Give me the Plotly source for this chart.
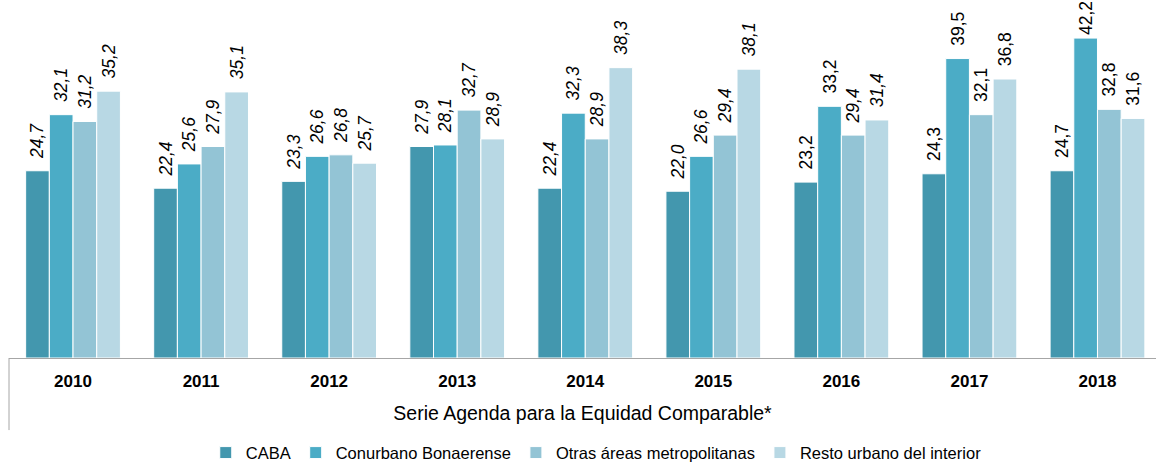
import plotly.graph_objects as go

years = ["2010", "2011", "2012", "2013", "2014", "2015", "2016", "2017", "2018"]
caba = [24.7, 22.4, 23.3, 27.9, 22.4, 22.0, 23.2, 24.3, 24.7]
conurbano = [32.1, 25.6, 26.6, 28.1, 32.3, 26.6, 33.2, 39.5, 42.2]
otras = [31.2, 27.9, 26.8, 32.7, 28.9, 29.4, 29.4, 32.1, 32.8]
resto = [35.2, 35.1, 25.7, 28.9, 38.3, 38.1, 31.4, 36.8, 31.6]

# italic flags of the value labels as seen in the picture
italic_caba = [1, 1, 1, 1, 1, 1, 0, 0, 0]
italic_conurbano = [1, 1, 1, 1, 1, 1, 0, 0, 0]
italic_otras = [1, 1, 1, 1, 1, 1, 1, 0, 0]
italic_resto = [1, 1, 1, 1, 1, 1, 1, 0, 0]

names = ["CABA", "Conurbano Bonaerense", "Otras áreas metropolitanas", "Resto urbano del interior"]
colors = ["#4397AE", "#4BACC6", "#93C4D5", "#B8D8E4"]
series = [caba, conurbano, otras, resto]
italics = [italic_caba, italic_conurbano, italic_otras, italic_resto]

FONT = "Liberation Sans, Arial, sans-serif"


def fmt(v, it):
    s = f"{v:.1f}".replace(".", ",")
    if v < 40:
        s = "\u00a0\u00a0" + s
    return f"<i>{s}</i>" if it else s


fig = go.Figure()
for name, col, vals, its in zip(names, colors, series, italics):
    fig.add_trace(go.Bar(
        x=years, y=vals, name=name,
        marker=dict(color=col, line=dict(color="white", width=1)),
        text=[fmt(v, i) for v, i in zip(vals, its)],
        texttemplate="%{text}",
        textposition="outside", textangle=-90,
        constraintext="none",
        textfont=dict(family=FONT, size=17.5, color="black"),
        cliponaxis=False,
        hoverinfo="skip",
    ))

fig.update_layout(
    width=1156, height=464,
    margin=dict(l=9, r=0, t=18, b=106, autoexpand=False),
    paper_bgcolor="white", plot_bgcolor="white",
    barmode="group", bargap=0.26, bargroupgap=0,
    font=dict(family=FONT, color="black"),
    showlegend=True,
    legend=dict(orientation="h", x=0.512, xanchor="center", y=-0.279, yanchor="middle",
                font=dict(size=16.5), itemwidth=30, tracegroupgap=0),
    xaxis=dict(
        range=[-0.5, 8.457], automargin=False,
        showline=True, linecolor="#a6a6a6", linewidth=1,
        ticks="", tickfont=dict(size=17, family=FONT),
        ticklabelstandoff=8,
        tickprefix="<b>", ticksuffix="</b>",
        title=dict(text="Serie Agenda para la Equidad Comparable*", font=dict(size=19.5), standoff=15),
    ),
    yaxis=dict(visible=False, range=[0, 44.85], automargin=False),
)

fig.add_shape(type="line", xref="paper", yref="paper", x0=0, x1=0, y0=0, y1=-0.212,
              line=dict(color="#a6a6a6", width=1))

fig.write_html("out.html",
               config={"displayModeBar": False},
               post_script="document.body.style.margin='0';document.body.style.overflow='hidden';")
